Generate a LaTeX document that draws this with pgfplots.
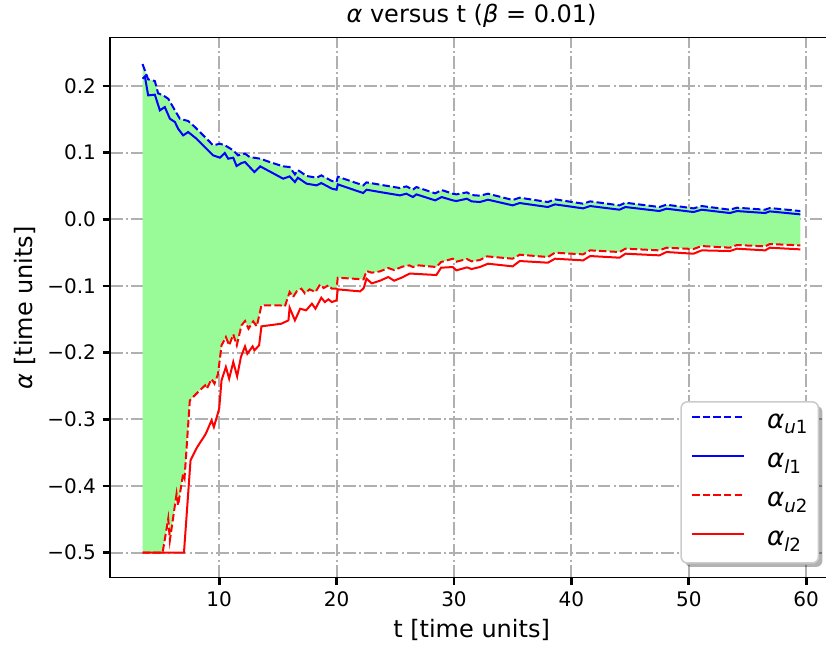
\documentclass[border=0pt]{standalone}
\usepackage{fontspec}
\setmainfont{DejaVu Sans}
\usepackage{pgfplots}
\pgfplotsset{compat=1.18}
\usepgfplotslibrary{fillbetween}
\usetikzlibrary{shadows}
\definecolor{palegreen}{HTML}{98FB98}
\definecolor{gridgray}{HTML}{B0B0B0}
\makeatletter
\tikzset{nopre/.code={\let\tikz@preactions\pgfutil@empty}}
\makeatother
\begin{document}
\begin{tikzpicture}
\pgfplotsset{set layers}
\begin{axis}[
  at={(0,0)}, anchor=south west,
  scale only axis, width=361.6pt, height=270pt,
  xmin=0.7, xmax=62.3, ymin=-0.5375, ymax=0.2725,
  xtick={10,20,30,40,50,60},
  ytick={-0.5,-0.4,-0.3,-0.2,-0.1,0,0.1,0.2},
  yticklabels={−0.5,−0.4,−0.3,−0.2,−0.1,0.0,0.1,0.2},
  xtick pos=bottom, ytick pos=left,
  tick align=outside,
  major tick length=3.5pt,
  tick style={black, line width=1.4pt},
  axis line style={line width=0.75pt},
  grid=major,
  major grid style={gridgray, line width=1pt, dash pattern=on 6.4pt off 1.6pt on 1pt off 1.6pt},
  tick label style={font=\fontsize{10}{12}\selectfont},
  /pgf/number format/assume math mode=true,
  title={\textit{α} versus t (\textit{β} = 0.01)},
  title style={at={(axis description cs:0.5,1)}, anchor=base, yshift=1.7pt, font=\fontsize{12}{14}\selectfont},
  xlabel={t [time units]},
  xlabel style={at={(axis description cs:0.5,0)}, anchor=base, yshift=-30pt, font=\fontsize{12}{14}\selectfont},
  ylabel={\textit{α} [time units]},
  ylabel style={at={(axis description cs:-0.1065,0.5)}, anchor=base, font=\fontsize{12}{14}\selectfont},
  legend style={at={(axis description cs:1,0)}, anchor=south east, xshift=-7pt, yshift=7pt,
    draw=black!20, fill=white, rounded corners=3pt, line width=0.8pt,
    inner xsep=5pt, inner ysep=4.5pt, column sep=11pt, row sep=6.5pt,
    font=\fontsize{13}{15}\selectfont,
    drop shadow={shadow xshift=2pt, shadow yshift=-2pt, fill=black, opacity=0.3},
    nodes={inner sep=0pt, text height=9pt, text depth=4pt}},
  legend cell align=left,
  legend image code/.code={\draw[#1,nopre] (0pt,3.5pt) -- (26pt,3.5pt);},
]
\addplot[blue, line width=1pt, dash pattern=on 3.7pt off 1.6pt, name path=U1] coordinates {
(3.47,0.233) (3.95,0.210) (4.52,0.2075) (4.80,0.189) (5.23,0.186) (5.66,0.181)
(6.23,0.1635) (6.65,0.151) (7.36,0.1475) (7.93,0.1385) (8.64,0.126) (9.49,0.111)
(10.06,0.1135) (10.50,0.111) (11.20,0.1035) (11.60,0.096) (12.20,0.0985) (12.60,0.0935)
(13.50,0.091) (14.30,0.086) (15.45,0.0795) (16.00,0.0785) (16.45,0.0675) (16.70,0.074)
(17.45,0.065) (18.30,0.0625) (18.70,0.066) (19.60,0.0575) (20.00,0.056) (20.10,0.064)
(22.27,0.051) (22.55,0.0555) (23.70,0.052) (24.55,0.0495) (25.40,0.047) (25.95,0.0495)
(26.50,0.0445) (26.80,0.0485) (28.40,0.039) (28.95,0.044) (29.90,0.0385) (30.20,0.0375)
(31.10,0.0405) (31.50,0.0365) (32.20,0.0355) (32.90,0.0385) (35.00,0.029) (35.60,0.0325)
(38.00,0.026) (38.60,0.030) (41.00,0.0235) (41.60,0.027) (44.10,0.021) (44.60,0.025)
(47.50,0.0185) (48.10,0.022) (50.40,0.0165) (51.10,0.020) (53.50,0.0145) (54.10,0.0175)
(56.50,0.0145) (56.90,0.017) (59.50,0.0125)
};
\addlegendentry{\textit{α}\textsubscript{\textit{u}1}}
\addplot[blue, line width=1pt] coordinates {
(3.47,0.211) (3.67,0.2145) (3.95,0.186) (4.52,0.187) (4.95,0.1635) (5.37,0.1685)
(5.80,0.151) (6.23,0.146) (6.50,0.136) (6.93,0.126) (7.36,0.131) (8.07,0.121)
(8.78,0.1085) (9.49,0.096) (10.06,0.0925) (10.48,0.0995) (10.77,0.091) (11.20,0.0925)
(11.48,0.080) (11.90,0.0845) (12.20,0.086) (12.60,0.0785) (13.00,0.071) (13.50,0.0795)
(15.45,0.061) (16.00,0.0645) (16.45,0.056) (16.70,0.0625) (17.45,0.0535) (18.30,0.051)
(18.70,0.0545) (19.60,0.046) (20.00,0.0445) (20.10,0.0525) (22.27,0.0395) (22.55,0.0445)
(23.70,0.041) (24.55,0.0385) (25.40,0.036) (25.95,0.0385) (26.50,0.0335) (26.80,0.0375)
(28.40,0.0285) (28.95,0.0335) (29.90,0.0285) (30.20,0.0275) (31.10,0.031) (31.50,0.027)
(32.20,0.026) (32.90,0.0295) (35.00,0.021) (35.60,0.0245) (38.00,0.0185) (38.60,0.0225)
(41.00,0.0165) (41.60,0.020) (44.10,0.0145) (44.60,0.0185) (47.50,0.0125) (48.10,0.016)
(50.40,0.011) (51.10,0.0145) (53.50,0.0095) (54.10,0.0125) (56.50,0.0095) (56.90,0.012)
(59.50,0.0075)
};
\addlegendentry{\textit{α}\textsubscript{\textit{l}1}}
\addplot[red, line width=1pt, dash pattern=on 3.7pt off 1.6pt, name path=U2] coordinates {
(3.47,-0.5) (5.18,-0.5) (5.66,-0.449) (5.80,-0.4815) (6.37,-0.4115) (6.50,-0.429)
(6.93,-0.3815) (7.05,-0.388) (7.50,-0.2715) (8.20,-0.259) (8.80,-0.249) (8.95,-0.254)
(9.35,-0.2395) (9.60,-0.2465) (9.90,-0.232) (10.20,-0.189) (10.57,-0.1765) (10.85,-0.189)
(11.20,-0.1725) (11.50,-0.189) (11.90,-0.159) (12.20,-0.1525) (12.50,-0.164) (12.90,-0.153)
(13.20,-0.1605) (13.60,-0.129) (15.20,-0.129) (15.60,-0.1305) (16.00,-0.109) (16.30,-0.1165)
(16.60,-0.108) (17.00,-0.104) (17.30,-0.111) (17.70,-0.105) (18.20,-0.109) (18.60,-0.0975)
(18.90,-0.103) (19.30,-0.099) (19.60,-0.104) (20.00,-0.104) (20.10,-0.0875) (22.30,-0.090)
(22.55,-0.0775) (23.00,-0.080) (23.70,-0.078) (24.40,-0.073) (24.90,-0.076) (25.60,-0.071)
(26.20,-0.069) (26.50,-0.0715) (27.00,-0.069) (28.50,-0.0715) (28.90,-0.064) (29.90,-0.059)
(30.20,-0.0635) (31.10,-0.0595) (31.50,-0.063) (32.20,-0.061) (32.80,-0.0555) (35.00,-0.059)
(35.60,-0.053) (38.00,-0.0565) (38.60,-0.050) (41.00,-0.0525) (41.60,-0.0465) (44.10,-0.049)
(44.60,-0.044) (47.50,-0.0465) (48.10,-0.0425) (50.40,-0.0445) (51.10,-0.040) (53.50,-0.0425)
(54.10,-0.0385) (56.50,-0.0405) (56.90,-0.037) (59.50,-0.039)
};
\addlegendentry{\textit{α}\textsubscript{\textit{u}2}}
\addplot[red, line width=1pt] coordinates {
(3.47,-0.5) (7.00,-0.5) (7.56,-0.3615) (8.13,-0.3415) (8.78,-0.324) (8.95,-0.318)
(9.35,-0.3015) (9.55,-0.3115) (10.00,-0.284) (10.20,-0.2415) (10.57,-0.2215) (10.85,-0.239)
(11.20,-0.214) (11.53,-0.2355) (11.85,-0.2065) (12.20,-0.1905) (12.40,-0.2015) (12.85,-0.1905)
(13.00,-0.1965) (13.40,-0.189) (13.60,-0.1605) (15.30,-0.1565) (15.90,-0.1515) (16.00,-0.1325)
(16.45,-0.1515) (16.90,-0.134) (17.40,-0.1365) (17.90,-0.1265) (18.20,-0.134) (18.70,-0.1175)
(19.00,-0.124) (19.30,-0.120) (19.60,-0.124) (20.00,-0.1215) (20.10,-0.105) (22.00,-0.108)
(22.30,-0.1035) (22.55,-0.089) (23.00,-0.096) (23.70,-0.092) (24.40,-0.0865) (24.90,-0.092)
(25.60,-0.087) (26.20,-0.0815) (26.50,-0.0815) (28.50,-0.0835) (28.90,-0.0725) (29.90,-0.0715)
(30.20,-0.0765) (31.10,-0.072) (31.50,-0.0745) (32.20,-0.0715) (32.90,-0.0665) (35.00,-0.0705)
(35.60,-0.0625) (38.00,-0.065) (38.60,-0.059) (41.00,-0.0615) (41.60,-0.055) (44.10,-0.0575)
(44.60,-0.0515) (47.50,-0.054) (48.10,-0.049) (50.40,-0.0515) (51.10,-0.0465) (53.50,-0.0475)
(54.10,-0.044) (56.50,-0.0465) (56.90,-0.0425) (59.50,-0.045)
};
\addlegendentry{\textit{α}\textsubscript{\textit{l}2}}
\addplot[palegreen, draw=none, on layer=axis background, forget plot] fill between[of=U1 and U2];
\end{axis}
\pgfresetboundingbox
\useasboundingbox (-55pt,-35pt) rectangle (358pt,288.85pt);
\end{tikzpicture}
\end{document}
